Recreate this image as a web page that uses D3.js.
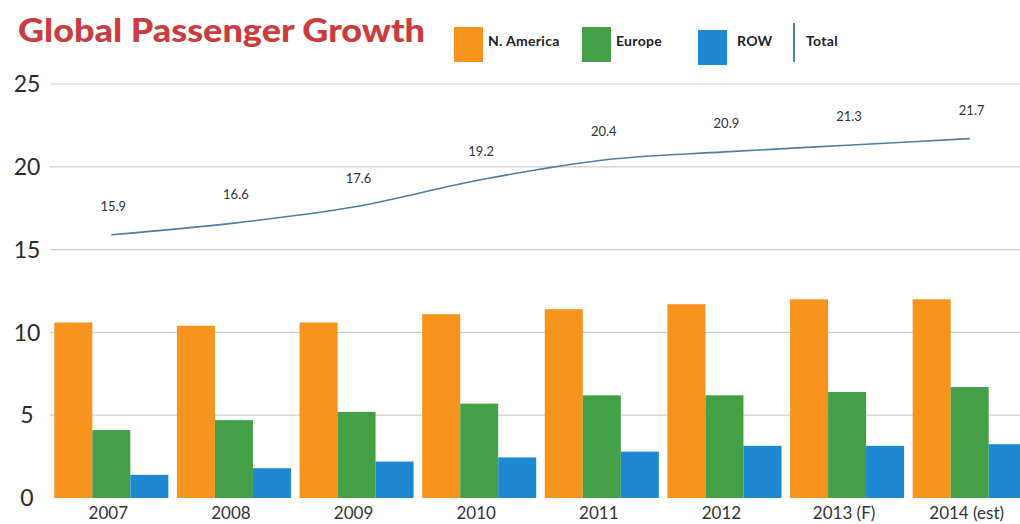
<!DOCTYPE html>
<html>
<head>
<meta charset="utf-8">
<script src="https://cdn.jsdelivr.net/npm/d3@7"></script>
<style>
    body { margin: 0; background: #fff; }
    svg { display: block; font-family: Lato, "Open Sans", sans-serif; }
</style>
</head>
<body>
<svg id="chart" width="1020" height="524"></svg>
<script>
const years = ['2007', '2008', '2009', '2010', '2011', '2012', '2013 (F)', '2014 (est)'];
const northAmerica = [10.6, 10.4, 10.6, 11.1, 11.4, 11.7, 12.0, 12.0];
const europe = [4.1, 4.7, 5.2, 5.7, 6.2, 6.2, 6.4, 6.7];
const row = [1.4, 1.8, 2.2, 2.45, 2.8, 3.15, 3.15, 3.25];
const total = [15.9, 16.6, 17.6, 19.2, 20.4, 20.9, 21.3, 21.7];
const yTicks = [0, 5, 10, 15, 20, 25];
const seriesNames = ['N. America', 'Europe', 'ROW'];

const orange = '#f7941d';
const green = '#43a047';
const blue = '#1f88d2';
const lineBlue = '#4d7ea8';

const svg = d3.select('#chart');
const width = 1020;

const xScale = d3.scaleBand()
    .domain(years)
    .range([50, 1031])
    .paddingInner(0.07)
    .paddingOuter(0.035);
const subScale = d3.scaleBand()
    .domain(seriesNames)
    .range([0, xScale.bandwidth()]);
const yScale = d3.scaleLinear().domain([0, 25]).range([498, 84]);
const colour = d3.scaleOrdinal().domain(seriesNames).range([orange, green, blue]);

// grid lines
svg.append('g')
    .selectAll('line')
    .data(yTicks.filter((t) => t > 0))
    .enter()
    .append('line')
    .attr('x1', 50)
    .attr('x2', width)
    .attr('y1', (d) => yScale(d))
    .attr('y2', (d) => yScale(d))
    .attr('stroke', '#cfcfcf')
    .attr('stroke-width', 1.2);

// y labels
svg.append('g')
    .selectAll('text')
    .data(yTicks)
    .enter()
    .append('text')
    .attr('x', 27)
    .attr('y', (d) => yScale(d))
    .attr('dy', '0.36em')
    .attr('text-anchor', 'middle')
    .style('font-size', '23px')
    .style('fill', '#2b2b2b')
    .text((d) => d);

// bars
const rows = years.map((y, i) => ({
    year: y,
    values: [
        { key: 'N. America', value: northAmerica[i] },
        { key: 'Europe', value: europe[i] },
        { key: 'ROW', value: row[i] },
    ],
}));

svg.append('g')
    .selectAll('g')
    .data(rows)
    .enter()
    .append('g')
    .attr('transform', (d) => `translate(${xScale(d.year)}, 0)`)
    .selectAll('rect')
    .data((d) => d.values)
    .enter()
    .append('rect')
    .attr('x', (d) => subScale(d.key))
    .attr('width', subScale.bandwidth())
    .attr('y', (d) => yScale(d.value))
    .attr('height', (d) => yScale(0) - yScale(d.value))
    .attr('fill', (d) => colour(d.key));

// x labels
svg.append('g')
    .selectAll('text')
    .data(years)
    .enter()
    .append('text')
    .attr('x', (d) => xScale(d) + xScale.bandwidth() / 2 - 3)
    .attr('y', 513)
    .attr('dy', '0.36em')
    .attr('text-anchor', 'middle')
    .style('font-size', '17px')
    .style('fill', '#333')
    .text((d) => d);

// total line
const cx = (d, i) => xScale(years[i]) + xScale.bandwidth() / 2;
const line = d3.line()
    .x(cx)
    .y((d) => yScale(d))
    .curve(d3.curveMonotoneX);

svg.append('path')
    .datum(total)
    .attr('d', line)
    .attr('fill', 'none')
    .attr('stroke', lineBlue)
    .attr('stroke-width', 1.6);

svg.append('g')
    .selectAll('text')
    .data(total)
    .enter()
    .append('text')
    .attr('x', (d, i) => cx(d, i) + 2)
    .attr('y', (d) => yScale(d) - 24)
    .attr('text-anchor', 'middle')
    .style('font-size', '13px')
    .style('fill', '#333')
    .text((d) => d.toFixed(1));

// title
svg.append('text')
    .attr('x', 18)
    .attr('y', 42)
    .attr('textLength', 407)
    .attr('lengthAdjust', 'spacingAndGlyphs')
    .style('font-size', '33px')
    .style('font-weight', '900')
    .style('fill', '#cc3b3d')
    .text('Global Passenger Growth');

// legend
const legendItems = [
    { name: 'N. America', colour: orange, x: 454, y: 27 },
    { name: 'Europe', colour: green, x: 582, y: 27 },
    { name: 'ROW', colour: blue, x: 698, y: 30 },
];
const legend = svg.append('g');
legend.selectAll('rect')
    .data(legendItems)
    .enter()
    .append('rect')
    .attr('x', (d) => d.x)
    .attr('y', (d) => d.y)
    .attr('width', 29)
    .attr('height', 35)
    .attr('fill', (d) => d.colour);
legend.selectAll('text')
    .data(legendItems)
    .enter()
    .append('text')
    .attr('x', (d) => d.name === 'ROW' ? d.x + 39 : d.x + 34)
    .attr('y', 41)
    .attr('dy', '0.36em')
    .style('font-size', '14px')
    .style('font-weight', 'bold')
    .style('letter-spacing', '0.3px')
    .style('fill', '#222')
    .text((d) => d.name);
legend.append('line')
    .attr('x1', 794)
    .attr('x2', 794)
    .attr('y1', 23)
    .attr('y2', 62)
    .attr('stroke', lineBlue)
    .attr('stroke-width', 2);
legend.append('text')
    .attr('x', 806)
    .attr('y', 41)
    .attr('dy', '0.36em')
    .style('font-size', '14px')
    .style('font-weight', 'bold')
    .style('letter-spacing', '0.3px')
    .style('fill', '#222')
    .text('Total');
</script>
</body>
</html>
